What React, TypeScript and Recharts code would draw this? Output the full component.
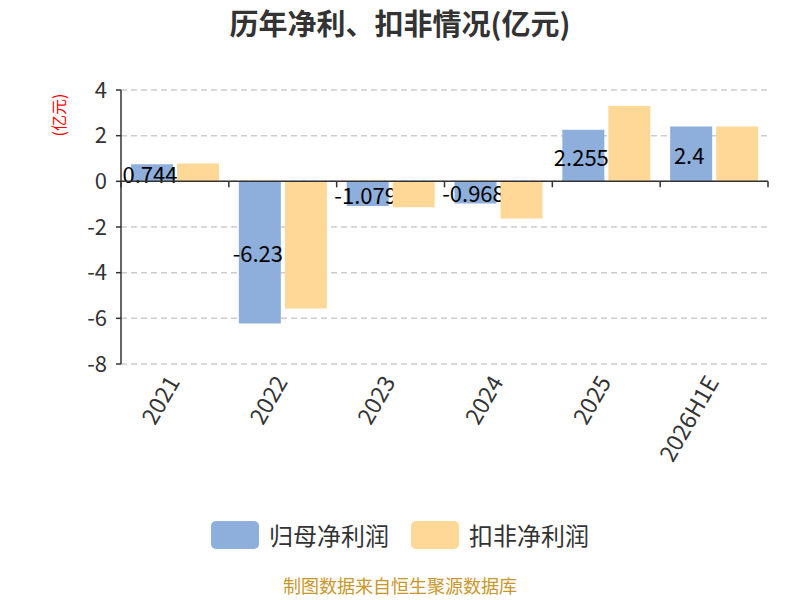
import { Bar, BarChart, CartesianGrid, ReferenceLine, Rectangle, XAxis, YAxis } from 'recharts'

const years = ['2021', '2022', '2023', '2024', '2025', '2026H1E']
const netProfit = [0.744, -6.23, -1.079, -0.968, 2.255, 2.4]
const deductedProfit = [0.78, -5.57, -1.14, -1.63, 3.3, 2.4]
const yTicks = [-8, -6, -4, -2, 0, 2, 4]

const BLUE = '#8eaedb'
const ORANGE = '#ffd898'
const FONT = "'Noto Sans CJK SC', 'Noto Sans', sans-serif"

const data = years.map((year, i) => ({
  year,
  net: netProfit[i],
  deducted: deductedProfit[i],
}))

// plot frame, used for the boundary ticks on the zero line
const PLOT_LEFT = 121
const PLOT_RIGHT = 768
const PLOT_TOP = 90
const PLOT_BOTTOM = 364
const bandWidth = (PLOT_RIGHT - PLOT_LEFT) / years.length
const zeroY = PLOT_TOP + ((4 - 0) / 12) * (PLOT_BOTTOM - PLOT_TOP)

function YearTick(props: any) {
  const { x, payload, index } = props
  const tx = x - 3
  const ty = PLOT_BOTTOM + 13
  return (
    <g>
      <line x1={x + bandWidth / 2} x2={x + bandWidth / 2} y1={zeroY} y2={zeroY + 6} stroke="#333" strokeWidth={1.5} />
      {index === 0 && (
        <line x1={x - bandWidth / 2} x2={x - bandWidth / 2} y1={zeroY} y2={zeroY + 6} stroke="#333" strokeWidth={1.5} />
      )}
      <text
        x={tx}
        y={ty}
        transform={`rotate(-60, ${tx}, ${ty})`}
        textAnchor="end"
        dominantBaseline="central"
        fontSize={23}
        fill="#333"
        fontFamily={FONT}
      >
        {payload.value}
      </text>
    </g>
  )
}

// blue bar with its value label drawn in the same layer, so the orange bars cover it
function NetBar(props: any) {
  const { x, y, width, height, payload } = props
  return (
    <g>
      <Rectangle x={x} y={y} width={width} height={height} fill={BLUE} />
      <text
        x={x + width / 2 - 2}
        y={y + height / 2}
        textAnchor="middle"
        dominantBaseline="central"
        fontSize={22}
        fill="#000"
        fontFamily={FONT}
      >
        {payload.net}
      </text>
    </g>
  )
}

function App() {
  return (
    <div style={{ position: 'absolute', left: 0, top: 0, width: 800, height: 600, background: '#fff', fontFamily: FONT }}>
      <div style={{ position: 'absolute', top: 1, width: 800, textAlign: 'center', fontSize: 29, fontWeight: 'bold', color: '#333' }}>
        历年净利、扣非情况(亿元)
      </div>
      <div
        style={{
          position: 'absolute',
          left: 33,
          top: 103,
          width: 50,
          textAlign: 'center',
          fontSize: 16,
          color: 'red',
          transform: 'rotate(-90deg)',
        }}
      >
        (亿元)
      </div>
      <BarChart
        width={800}
        height={600}
        data={data}
        margin={{ top: PLOT_TOP, right: 800 - PLOT_RIGHT, left: 61, bottom: 136 }}
        barCategoryGap={10}
        barGap={4}
      >
        <CartesianGrid vertical={false} stroke="#ccc" strokeDasharray="6 4" strokeWidth={1.5} />
        <XAxis dataKey="year" height={100} axisLine={false} tickLine={false} tick={<YearTick />} interval={0} />
        <YAxis
          width={60}
          domain={[-8, 4]}
          ticks={yTicks}
          interval={0}
          axisLine={{ stroke: '#333', strokeWidth: 1.5 }}
          tickLine={{ stroke: '#333', strokeWidth: 1.5 }}
          tickSize={5}
          tickMargin={9}
          tick={{ fontSize: 22, fill: '#333', fontFamily: FONT }}
        />
        <ReferenceLine y={0} stroke="#333" strokeWidth={1.5} />
        <Bar dataKey="net" fill={BLUE} isAnimationActive={false} shape={NetBar} />
        <Bar dataKey="deducted" fill={ORANGE} isAnimationActive={false} />
      </BarChart>
      <div
        style={{
          position: 'absolute',
          top: 517,
          width: 800,
          display: 'flex',
          justifyContent: 'center',
          alignItems: 'center',
          fontSize: 24,
          color: '#333',
        }}
      >
        <span style={{ width: 48, height: 28, borderRadius: 5, background: BLUE, marginRight: 10 }} />
        <span style={{ marginRight: 22 }}>归母净利润</span>
        <span style={{ width: 48, height: 28, borderRadius: 5, background: ORANGE, marginRight: 10 }} />
        <span>扣非净利润</span>
      </div>
      <div
        style={{
          position: 'absolute',
          top: 574,
          width: 800,
          textAlign: 'center',
          fontSize: 18,
          lineHeight: '22px',
          color: '#c9962a',
        }}
      >
        制图数据来自恒生聚源数据库
      </div>
    </div>
  )
}

export default App
